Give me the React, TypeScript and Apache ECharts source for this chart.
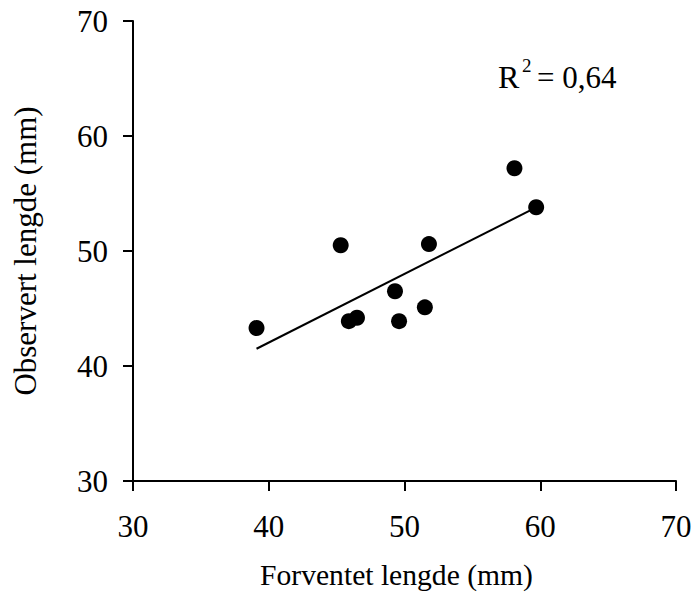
import React, { useEffect, useRef } from "react";
import * as echarts from "echarts";

const xAxisTitle = "Forventet lengde (mm)";
const yAxisTitle = "Observert lengde (mm)";
const axisMin = 30;
const axisMax = 70;
const axisStep = 10;

// Observations: expected length (x) vs observed length (y)
const expectedLength = [39.1, 45.3, 45.9, 46.5, 49.3, 49.6, 51.5, 51.8, 58.1, 59.7];
const observedLength = [43.3, 50.5, 43.9, 44.2, 46.5, 43.9, 45.1, 50.6, 57.2, 53.8];

// Linear trend line endpoints
const trendX = [39.1, 59.7];
const trendY = [41.5, 53.8];

const rSquaredLabel = "0,64";

const FONT = "'Liberation Serif', 'Times New Roman', serif";

export default function App() {
  const ref = useRef<HTMLDivElement>(null);

  useEffect(() => {
    if (!ref.current) return;
    const chart = echarts.init(ref.current, undefined, { renderer: "svg" });

    const axisCommon = {
      type: "value" as const,
      min: axisMin,
      max: axisMax,
      interval: axisStep,
      splitLine: { show: false },
      axisLine: { show: true, lineStyle: { color: "#000", width: 2 } },
      axisTick: { show: true, inside: false, length: 10, lineStyle: { color: "#000", width: 2 } },
      nameLocation: "middle" as const,
    };

    chart.setOption({
      animation: false,
      backgroundColor: "#fff",
      grid: {
        left: 133,
        right: 18,
        top: 21,
        bottom: 118,
        containLabel: false,
        outerBoundsMode: "none",
      },
      xAxis: {
        ...axisCommon,
        name: xAxisTitle,
        nameGap: 79,
        nameTextStyle: {
          fontFamily: FONT,
          fontSize: 29.6,
          color: "#000",
          padding: [0, 16, 0, 0],
        },
        axisLabel: { fontFamily: FONT, fontSize: 31, color: "#000", margin: 30 },
      },
      yAxis: {
        ...axisCommon,
        name: yAxisTitle,
        nameGap: 92,
        nameRotate: 90,
        nameTextStyle: { fontFamily: FONT, fontSize: 31, color: "#000" },
        axisLabel: { fontFamily: FONT, fontSize: 31, color: "#000", margin: 25 },
      },
      graphic: [
        {
          type: "text",
          left: 498,
          top: 61,
          style: { text: "R", fontFamily: FONT, fontSize: 32, fill: "#000" },
        },
        {
          type: "text",
          left: 522,
          top: 56,
          style: { text: "2", fontFamily: FONT, fontSize: 19, fill: "#000" },
        },
        {
          type: "text",
          left: 537,
          top: 62,
          style: { text: "= " + rSquaredLabel, fontFamily: FONT, fontSize: 31, fill: "#000" },
        },
      ],
      series: [
        {
          type: "line",
          data: trendX.map((x, i) => [x, trendY[i]]),
          showSymbol: false,
          symbol: "none",
          lineStyle: { color: "#000", width: 2 },
          z: 2,
        },
        {
          type: "scatter",
          data: expectedLength.map((x, i) => [x, observedLength[i]]),
          symbol: "circle",
          symbolSize: 16,
          itemStyle: { color: "#000", opacity: 1 },
          z: 3,
        },
      ],
    });

    return () => chart.dispose();
  }, []);

  return (
    <div
      ref={ref}
      style={{ position: "fixed", left: 0, top: 0, width: 694, height: 599 }}
    />
  );
}
